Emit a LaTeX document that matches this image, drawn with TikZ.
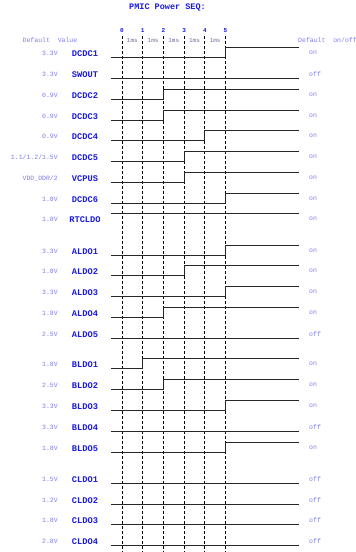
\documentclass[tikz,border=0pt]{standalone}
\usepackage{fontspec}
\setmonofont{Liberation Mono}
\usetikzlibrary{positioning}
\definecolor{railblue}{HTML}{1A1AE6}
\definecolor{notelight}{HTML}{7C7CF0}
\definecolor{slotgrey}{HTML}{70709A}
\tikzset{
  title/.style={font=\ttfamily\bfseries\fontsize{8.5}{10}\selectfont, text=railblue, inner sep=0pt},
  namelabel/.style={font=\ttfamily\bfseries\fontsize{8.7}{10}\selectfont, text=railblue, inner sep=0pt},
  voltlabel/.style={font=\ttfamily\fontsize{6.5}{8}\selectfont, text=notelight, anchor=east, inner sep=0pt},
  statelabel/.style={font=\ttfamily\fontsize{6.5}{8}\selectfont, text=notelight, anchor=west, inner sep=0pt},
  headlabel/.style={font=\ttfamily\fontsize{6.5}{8}\selectfont, text=notelight, inner sep=0pt},
  ticklabel/.style={font=\ttfamily\bfseries\fontsize{6}{7}\selectfont, text=railblue, inner sep=0pt, anchor=base},
  slotlabel/.style={font=\ttfamily\fontsize{6}{7}\selectfont, text=slotgrey, inner sep=0pt, anchor=base},
  gridline/.style={line width=0.8pt, draw=black, dash pattern=on 3pt off 2pt},
  wave/.style={line width=0.9pt, draw=black!85}
}
% rail that switches on at step #4
\newcommand{\railup}[4]{%
  \node[voltlabel] (v#1) at (58,#2-3.5) {#3};
  \node[namelabel] (n#1) at (85,#2-3.5) {#1};
  \draw[wave] (111,#2) -- ({122+20.7*#4},#2) |- (299,#2-10);
  \node[statelabel] (s#1) at (309,#2-4) {on};
}
% rail that stays at one level
\newcommand{\railflat}[5]{%
  \node[voltlabel] (v#1) at (58,#2-3.5) {#3};
  \node[namelabel] (n#1) at (85,#2-3.5) {#1};
  \draw[wave] (111,#4) -- (299,#4);
  \node[statelabel] (s#1) at (309,#2-4) {#5};
}

\begin{document}
\begin{tikzpicture}[x=1pt,y=-1pt]
\path[use as bounding box] (0,0) rectangle (356,552);
\fill[white] (0,0) rectangle (356,552);

\node[title] (title) at (167.5,7) {PMIC Power SEQ:};
\node[headlabel] (defval) at (50,40) {Default\ \ Value};
\node[headlabel, anchor=west] (defstate) at (298,40) {Default\ \ on/off};

\foreach \t in {0,...,5} {
  \node[ticklabel] (t\t) at ({122+20.7*\t},32.2) {\t};
  \draw[gridline] ({122+20.7*\t},36) -- ({122+20.7*\t},552);
}
\foreach \t in {0,...,4}
  \node[slotlabel] (ms\t) at ({132.35+20.7*\t},42) {1ms};

\railup{DCDC1}{57}{3.3V}{5}
\railflat{SWOUT}{78}{3.3V}{78}{off}
\railup{DCDC2}{99}{0.9V}{2}
\railup{DCDC3}{120}{0.9V}{2}
\railup{DCDC4}{140}{0.9V}{4}
\railup{DCDC5}{161}{1.1/1.2/1.5V}{3}
\railup{VCPUS}{182}{VDD\_DDR/2}{3}
\railup{DCDC6}{203}{1.8V}{5}
\railflat{RTCLDO}{223}{1.8V}{213}{on}

\railup{ALDO1}{255}{3.3V}{5}
\railup{ALDO2}{275}{1.8V}{3}
\railup{ALDO3}{296}{3.3V}{5}
\railup{ALDO4}{317}{1.8V}{2}
\railflat{ALDO5}{338}{2.5V}{338}{off}

\railup{BLDO1}{368}{1.8V}{1}
\railup{BLDO2}{389}{2.5V}{2}
\railup{BLDO3}{410}{3.3V}{5}
\railflat{BLDO4}{431}{3.3V}{431}{off}
\railup{BLDO5}{452}{1.8V}{5}

\railflat{CLDO1}{483}{1.5V}{483}{off}
\railflat{CLDO2}{504}{1.2V}{504}{off}
\railflat{CLDO3}{524}{1.8V}{524}{off}
\railflat{CLDO4}{545}{2.8V}{545}{off}

\end{tikzpicture}
\end{document}
